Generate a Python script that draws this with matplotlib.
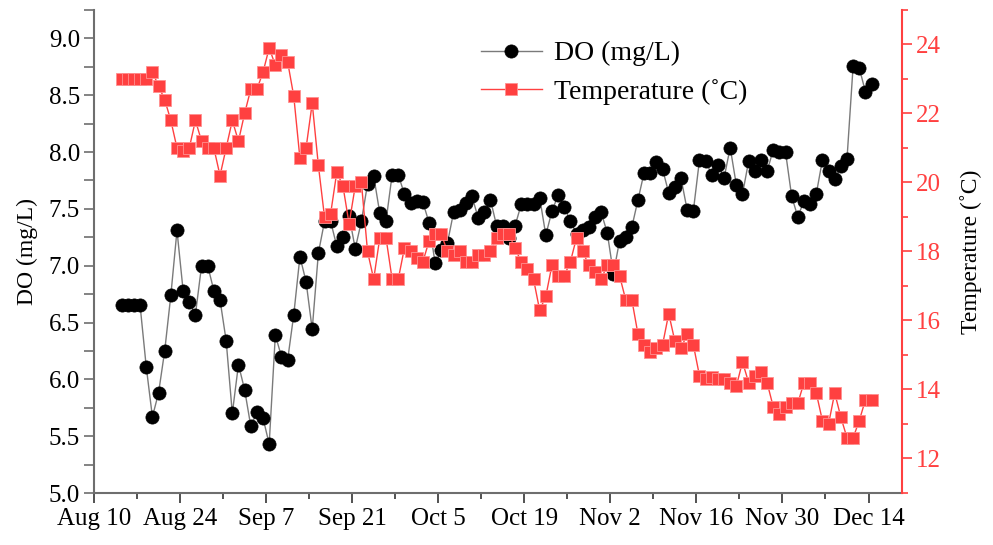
import matplotlib
matplotlib.use("Agg")
import matplotlib.pyplot as plt
from matplotlib.ticker import MultipleLocator, FuncFormatter
import pandas as pd
import numpy as np

plt.rcParams['font.family'] = ['Liberation Serif', 'DejaVu Serif']

start_date = "2020-08-14"
do_values = [6.65, 6.65, 6.65, 6.65, 6.11, 5.67, 5.88, 6.25, 6.74, 7.31,
             6.78, 6.68, 6.57, 7.00, 7.00, 6.78, 6.70, 6.34, 5.70, 6.13,
             5.91, 5.59, 5.71, 5.66, 5.43, 6.39, 6.20, 6.17, 6.57, 7.08,
             6.86, 6.44, 7.11, 7.39, 7.39, 7.17, 7.25, 7.44, 7.15, 7.39,
             7.72, 7.79, 7.46, 7.39, 7.80, 7.80, 7.63, 7.55, 7.57, 7.56,
             7.38, 7.02, 7.14, 7.20, 7.47, 7.49, 7.55, 7.61, 7.42, 7.47,
             7.58, 7.35, 7.35, 7.24, 7.35, 7.54, 7.54, 7.54, 7.60, 7.27,
             7.48, 7.62, 7.52, 7.39, 7.28, 7.31, 7.34, 7.43, 7.47, 7.29,
             6.93, 7.22, 7.25, 7.34, 7.58, 7.82, 7.82, 7.91, 7.85, 7.64,
             7.69, 7.77, 7.49, 7.48, 7.93, 7.92, 7.80, 7.89, 7.77, 8.04,
             7.71, 7.63, 7.92, 7.83, 7.93, 7.83, 8.02, 8.00, 8.00, 7.61,
             7.43, 7.57, 7.54, 7.63, 7.93, 7.83, 7.76, 7.88, 7.94, 8.76,
             8.74, 8.53, 8.60]
temp_values = [23.0, 23.0, 23.0, 23.0, 23.0, 23.2, 22.8, 22.4, 21.8, 21.0,
               20.9, 21.0, 21.8, 21.2, 21.0, 21.0, 20.2, 21.0, 21.8, 21.2,
               22.0, 22.7, 22.7, 23.2, 23.9, 23.4, 23.7, 23.5, 22.5, 20.7,
               21.0, 22.3, 20.5, 19.0, 19.1, 20.3, 19.9, 18.8, 19.9, 20.0,
               18.0, 17.2, 18.4, 18.4, 17.2, 17.2, 18.1, 18.0, 17.8, 17.7,
               18.3, 18.5, 18.5, 18.0, 17.9, 18.0, 17.7, 17.7, 17.9, 17.9,
               18.0, 18.4, 18.5, 18.5, 18.1, 17.7, 17.5, 17.2, 16.3, 16.7,
               17.6, 17.3, 17.3, 17.7, 18.4, 18.0, 17.6, 17.4, 17.2, 17.6,
               17.6, 17.3, 16.6, 16.6, 15.6, 15.3, 15.1, 15.2, 15.3, 16.2,
               15.4, 15.2, 15.6, 15.3, 14.4, 14.3, 14.35, 14.3, 14.3, 14.2,
               14.1, 14.8, 14.2, 14.4, 14.5, 14.2, 13.5, 13.3, 13.5, 13.6,
               13.6, 14.2, 14.2, 13.9, 13.1, 13.0, 13.9, 13.2, 12.6, 12.6,
               13.1, 13.7, 13.7]
tick_dates = ["2020-08-10", "2020-08-24", "2020-09-07", "2020-09-21", "2020-10-05",
              "2020-10-19", "2020-11-02", "2020-11-16", "2020-11-30", "2020-12-14"]
tick_labels = ["Aug 10", "Aug 24", "Sep 7", "Sep 21", "Oct 5",
               "Oct 19", "Nov 2", "Nov 16", "Nov 30", "Dec 14"]

dates = pd.date_range(start_date, periods=len(do_values), freq="D") + pd.Timedelta(hours=12)

RED = "#FF4040"
GRAY = "#6e6e6e"

fig = plt.figure(figsize=(9.93, 5.45), dpi=100)
ax = fig.add_axes([94/993, 52/545, (901.7-94)/993, (493-10)/545])
ax2 = ax.twinx()

l1, = ax.plot(dates, do_values, color="#7a7a7a", lw=1.0, marker="o", ms=9.5,
              mfc="black", mec="black", mew=0.5, label="DO (mg/L)")
l2, = ax2.plot(dates, temp_values, color=RED, lw=1.0, marker="s", ms=9,
               mfc=RED, mec="#FF9090", mew=0.6, label="Temperature (\u02daC)")

ax.set_ylim(5.0, 9.25)
ax2.set_ylim(11, 25)
x0 = pd.Timestamp("2020-08-10")
ax.set_xlim(x0, x0 + pd.Timedelta(days=131.4))

ax.set_yticks(np.arange(5.0, 9.01, 0.5))
ax.yaxis.set_major_formatter(FuncFormatter(lambda v, p: f"{v:.1f}"))
ax.yaxis.set_minor_locator(MultipleLocator(0.25))
ax2.set_yticks(np.arange(12, 24.1, 2))
ax2.yaxis.set_minor_locator(MultipleLocator(1))

ax.set_xticks(pd.to_datetime(tick_dates))
ax.set_xticklabels(tick_labels)
minor_days = pd.date_range("2020-08-17", "2020-12-14", freq="14D")
ax.set_xticks(minor_days, minor=True)

for a in (ax, ax2):
    a.spines["top"].set_visible(False)
ax.spines["right"].set_visible(False)
ax.spines["left"].set_color(GRAY)
ax.spines["bottom"].set_color(GRAY)
ax.spines["left"].set_linewidth(1.5)
ax.spines["bottom"].set_linewidth(1.5)
ax2.spines["left"].set_visible(False)
ax2.spines["bottom"].set_visible(False)
ax2.spines["right"].set_color(RED)
ax2.spines["right"].set_linewidth(1.5)

ax.tick_params(axis="y", which="both", direction="out", length=7, width=1.2,
               color=GRAY, labelsize=18, labelcolor="black", pad=3)
ax.tick_params(axis="x", which="major", direction="out", length=7, width=1.2,
               color="#333333", labelsize=18, pad=4)
ax.tick_params(axis="x", which="minor", direction="out", length=4, width=1.2,
               color="#333333")
ax2.tick_params(axis="y", which="major", direction="out", length=7, width=1.2,
                color=RED, labelsize=18, labelcolor=RED, pad=3)
ax2.tick_params(axis="y", which="minor", direction="out", length=4, width=1.2,
                color=RED)

ax.set_ylabel("DO (mg/L)", fontsize=17, labelpad=8)
ax2.set_ylabel("Temperature (\u02daC)", fontsize=17, labelpad=14)

fig.legend(handles=[l1, l2], loc="upper left", bbox_to_anchor=(467/993, 1 - 27/545),
           frameon=False, fontsize=20, handlelength=2.2, handletextpad=0.45,
           borderpad=0, labelspacing=0.45)

fig.savefig("out.png", dpi=100)
